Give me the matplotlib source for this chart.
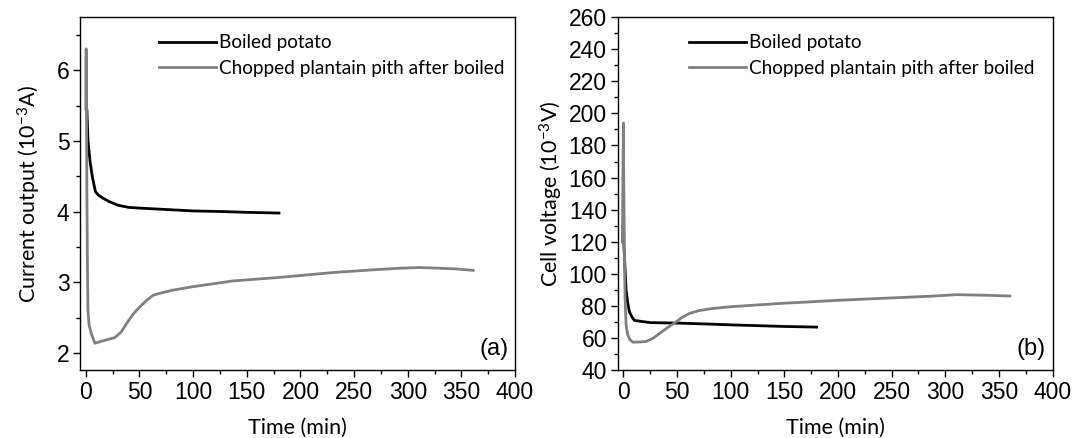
import numpy as np
import matplotlib.pyplot as plt

plt.rcParams['mathtext.fontset'] = 'custom'
plt.rcParams['mathtext.rm'] = 'Lato'
plt.rcParams['mathtext.it'] = 'Lato'

# Current output (10^-3 A) vs time (min)
t_potato_i = [1, 2, 4, 6, 8, 9, 12, 16, 22, 30, 40, 50, 75, 100, 130, 150, 180]
i_potato = [5.43, 5.0, 4.7, 4.5, 4.35, 4.28, 4.23, 4.19, 4.14, 4.09, 4.06, 4.05, 4.03, 4.01, 4.0, 3.99, 3.98]

t_plantain_i = [0, 0.3, 1, 1.5, 2, 3, 5, 8.4, 15, 20, 27, 33, 38, 44, 50, 57, 63, 70, 81, 100,
                137, 180, 231, 270, 293, 310, 330, 345, 361]
i_plantain = [5.45, 6.3, 4.2, 3.2, 2.6, 2.4, 2.28, 2.14, 2.17, 2.19, 2.22, 2.3, 2.42, 2.55, 2.65,
              2.75, 2.82, 2.85, 2.89, 2.94, 3.02, 3.07, 3.14, 3.18, 3.2, 3.21, 3.2, 3.19, 3.17]

# Cell voltage (10^-3 V) vs time (min)
t_potato_v = [0, 1, 2.5, 4, 5.6, 8, 10.3, 15, 25, 50, 75, 100, 130, 150, 180]
v_potato = [125, 110, 90, 82, 76.3, 73, 71, 70.5, 69.6, 69.3, 68.8, 68.2, 67.6, 67.2, 66.8]

t_plantain_v = [-1, 0, 0.3, 1, 1.5, 2.5, 4, 6, 8.7, 14, 21, 28, 33.6, 40, 49, 55, 61.5, 70, 83,
                100, 145, 200, 250, 285, 310, 335, 360]
v_plantain = [120, 194, 160, 110, 85, 68, 62, 59, 57.4, 57.5, 57.8, 60, 62.8, 66, 70, 73, 75.3,
              77, 78.4, 79.5, 81.5, 83.5, 85, 86, 87, 86.7, 86.2]

lbl_potato = "Boiled potato"
lbl_plantain = "Chopped plantain pith after boiled"

tick_font = "Liberation Sans"
label_font = "Lato"

fig = plt.figure(figsize=(10.73, 4.38), dpi=100)
ax1 = fig.add_axes([0.075, 0.155, 0.405, 0.806])
ax2 = fig.add_axes([0.576, 0.155, 0.405, 0.806])


def style_axes(ax, ylabel, ylim, ymajor, yminor, tag, ypad, leg_x):
    ax.set_xlim(-5, 400)
    ax.set_ylim(*ylim)
    ax.set_xticks(np.arange(0, 401, 50))
    ax.set_xticks(np.arange(0, 401, 25), minor=True)
    ax.set_yticks(ymajor)
    ax.set_yticks(yminor, minor=True)
    ax.tick_params(direction="out", length=5, width=1, labelsize=16.5, pad=3)
    ax.tick_params(which="minor", direction="out", length=3, width=1)
    for lab in ax.get_xticklabels() + ax.get_yticklabels():
        lab.set_fontfamily(tick_font)
    for sp in ax.spines.values():
        sp.set_linewidth(1)
    ax.set_xlabel("Time (min)", fontsize=15.5, fontfamily=label_font, labelpad=10)
    ax.set_ylabel(ylabel, fontsize=15.5, fontfamily=label_font, labelpad=ypad)
    ax.text(0.985, 0.03, tag, transform=ax.transAxes, ha="right", va="bottom",
            fontsize=17, fontfamily=tick_font)
    ax.legend(loc="upper left", bbox_to_anchor=(leg_x, 1.0), frameon=False,
              handlelength=3.0, handletextpad=0.15, labelspacing=0.45,
              prop={"family": label_font, "size": 13.7})


ax1.plot(t_potato_i, i_potato, color="black", lw=2, label=lbl_potato)
ax1.plot(t_plantain_i, i_plantain, color="#808080", lw=2, label=lbl_plantain)
style_axes(ax1, "Current output (10$^{\\mathrm{-3}}$A)", (1.76, 6.75),
           [2, 3, 4, 5, 6], np.arange(2, 6.6, 0.5), "(a)", 10, 0.142)

ax2.plot(t_potato_v, v_potato, color="black", lw=2, label=lbl_potato)
ax2.plot(t_plantain_v, v_plantain, color="#808080", lw=2, label=lbl_plantain)
style_axes(ax2, "Cell voltage (10$^{\\mathrm{-3}}$V)", (40, 260),
           np.arange(40, 261, 20), np.arange(40, 261, 10), "(b)", 3, 0.124)

fig.savefig("out.png", dpi=100)
